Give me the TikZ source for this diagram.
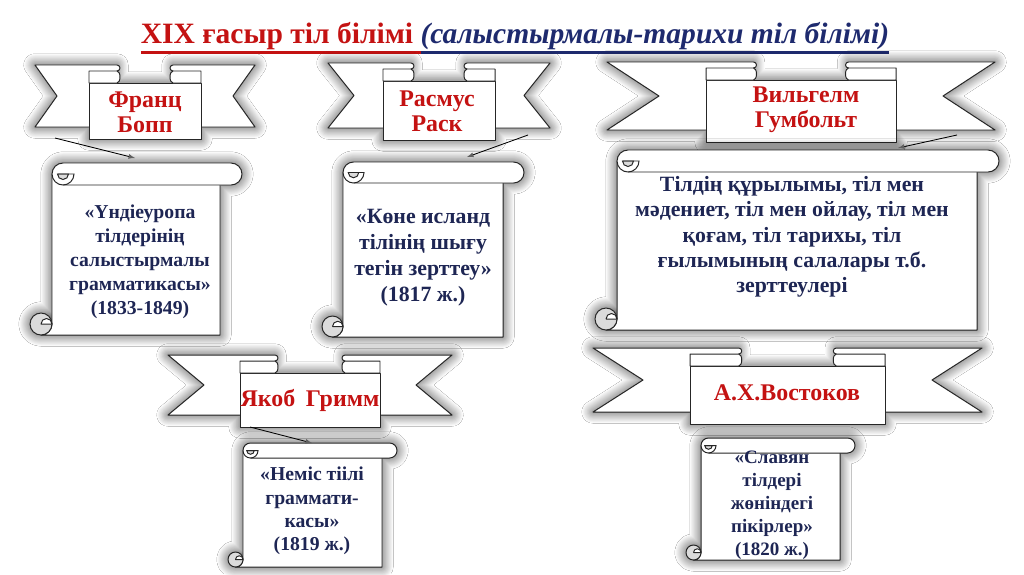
\documentclass[tikz,border=0pt]{standalone}
\usepackage{fontspec}
\setmainfont{Liberation Serif}
\usetikzlibrary{shadows.blur}
\definecolor{namered}{RGB}{196,18,18}
\definecolor{inkblue}{RGB}{30,38,84}
\definecolor{titleblue}{RGB}{30,42,110}
\tikzset{
  glow/.style={blur shadow={shadow xshift=0pt, shadow yshift=0pt, shadow blur radius=8pt, shadow blur steps=16, shadow opacity=75}},
  paper/.style={draw=black!85, fill=white, line width=0.7pt, line join=round},
  curlfill/.style={draw=black!85, fill=gray!28, line width=0.7pt},
  scholar/.style={text=namered, font=\bfseries\fontsize{17}{18}\selectfont, align=center},
  worktext/.style={text=inkblue, font=\bfseries\fontsize{15}{17.5}\selectfont, align=center},
  pointer/.style={-latex, line width=0.6pt},
}
% thick underline for the heading
\newcommand{\thickul}[1]{\vtop{\hbox{#1}\kern1.5pt\hrule height 1.6pt}}
% ribbon banner: centre x, tail half width, panel half width, tail top, tail bottom, notch
\newcommand{\ribbon}[6]{%
  \path[glow] ({#1-#2},#4) -- ({#1-#3/2},#4) -- ({#1-#3/2},{#4+18}) -- ({#1+#3/2},{#4+18}) -- ({#1+#3/2},#4) -- ({#1+#2},#4) -- ({#1+#2-#6},{(#4+#5)/2}) -- ({#1+#2},#5) -- ({#1+#3},#5) -- ({#1+#3},{#5+12}) -- ({#1-#3},{#5+12}) -- ({#1-#3},#5) -- ({#1-#2},#5) -- ({#1-#2+#6},{(#4+#5)/2}) -- cycle;
  \draw[paper] ({#1-#2},#4) -- ({#1-#3/2},#4) arc[start angle=-90,end angle=90,x radius=3,y radius=3] -- ({#1-#3/2},#5) -- ({#1-#2},#5) -- ({#1-#2+#6},{(#4+#5)/2}) -- cycle;
  \draw[paper] ({#1+#2},#4) -- ({#1+#3/2},#4) arc[start angle=-90,end angle=-270,x radius=3,y radius=3] -- ({#1+#3/2},#5) -- ({#1+#2},#5) -- ({#1+#2-#6},{(#4+#5)/2}) -- cycle;
  \draw[paper] ({#1-#3},{#4+18}) -- ({#1-#3},{#5+12}) -- ({#1+#3},{#5+12}) -- ({#1+#3},{#4+18}) -- cycle;
  \draw[paper] ({#1-#3},{#4+6}) -- ({#1-#3/2},{#4+6}) arc[start angle=-90,end angle=90,x radius=3,y radius=6] -- ({#1-#3},{#4+18}) -- cycle;
  \draw[paper] ({#1+#3},{#4+6}) -- ({#1+#3/2},{#4+6}) arc[start angle=-90,end angle=-270,x radius=3,y radius=6] -- ({#1+#3},{#4+18}) -- cycle;
}
% scroll sheet: left, right, top, roll height, bottom
\newcommand{\scrollsheet}[5]{%
  \path[glow] ({#1+#4/2},#3) -- ({#2+#4/2},#3) arc[start angle=-90,end angle=90,radius=#4/2] -- (#2,{#3+#4}) -- (#2,#5) -- ({#1-#4/2},#5) arc[start angle=90,end angle=270,radius=#4/2] -- (#1,{#5-#4}) -- (#1,{#3+#4/2}) arc[start angle=180,end angle=270,radius=#4/2] -- cycle;
  \draw[paper] (#1,{#3+#4/2}) -- (#1,{#5-#4/2}) arc[start angle=0,end angle=90,radius=#4/2] -- (#2,#5) -- (#2,{#3+#4/2}) -- cycle;
  \draw[curlfill] ({#1-#4/2},{#5-#4/2}) circle[radius=#4/2];
  \draw[paper] ({#1-#4/2},{#5-#4/2}) -- (#1,{#5-#4/2}) arc[start angle=0,end angle=-180,radius=#4/4] -- cycle;
  \draw[paper] ({#1+#4/2},#3) -- ({#2+#4/2},#3) arc[start angle=-90,end angle=90,radius=#4/2] -- ({#1+#4/2},{#3+#4}) arc[start angle=90,end angle=270,radius=#4/2] -- cycle;
  \draw[curlfill] ({#1+#4/4},{#3+#4/2}) arc[start angle=180,end angle=0,radius=#4/4] -- cycle;
  \draw[line width=0.7pt, black!85] ({#1+#4/4},{#3+#4/2}) -- ({#1+#4},{#3+#4/2}) arc[start angle=0,end angle=90,radius=#4/2];
}
\begin{document}
\begin{tikzpicture}[x=0.025cm, y=-0.025cm]
\fill[white] (0,0) rectangle (1024,574);
\useasboundingbox (0,0) rectangle (1024,574);

% heading
\node[anchor=base, font=\bfseries\fontsize{21}{24}\selectfont, inner sep=0pt] (title) at (515,43)
  {\textcolor{namered}{\thickul{XIX ғасыр тіл білімі\ }}\textcolor{titleblue}{\thickul{\itshape (салыстырмалы-тарихи тіл білімі)}}};

% banners and scrolls
\ribbon{145}{110}{56}{65}{127}{22}
\ribbon{439}{111}{56}{63}{128}{26}
\ribbon{801}{194}{95}{62}{130}{52}
\ribbon{310}{142}{70}{355}{415}{36}
\ribbon{787.5}{194.5}{97.5}{348}{412}{50}

\scrollsheet{52}{220}{163}{22}{335}
\scrollsheet{343}{503}{162}{21}{337}
\scrollsheet{617}{977}{150}{22}{330}
\scrollsheet{243}{382}{443}{15}{567}
\scrollsheet{701}{840}{438}{15}{560}

% names
\node[scholar] (bopp) at (145,112) {Франц\\Бопп};
\node[scholar] (rask) at (437,111) {Расмус\\Раск};
\node[scholar] (humboldt) at (806,110) {Вильгелм\\Гумбольт};
\node[scholar] (grimm) at (310,400) {Якоб\hspace{0.45em}Гримм};
\node[scholar] (vostokov) at (787,393) {А.Х.Востоков};

% works
\node[worktext, font=\bfseries\fontsize{14}{17}\selectfont] (boppwork) at (140,262) {«Үндіеуропа\\тілдерінің\\салыстырмалы\\грамматикасы»\\(1833-1849)};
\node[worktext, font=\bfseries\fontsize{15.5}{18.5}\selectfont] (raskwork) at (423,258) {«Көне исланд\\тілінің шығу\\тегін зерттеу»\\(1817 ж.)};
\node[worktext, font=\bfseries\fontsize{15.5}{18}\selectfont] (humboldtwork) at (792,237) {Тілдің құрылымы, тіл мен\\мәдениет, тіл мен ойлау, тіл мен\\қоғам, тіл тарихы, тіл\\ғылымының салалары т.б.\\зерттеулері};
\node[worktext, font=\bfseries\fontsize{14}{16.7}\selectfont] (grimmwork) at (312,511) {«Неміс тіілі\\граммати-\\касы»\\(1819 ж.)};
\node[worktext, font=\bfseries\fontsize{13.5}{16.4}\selectfont] (vostokovwork) at (772,505) {«Славян\\тілдері\\жөніндегі\\пікірлер»\\(1820 ж.)};

% pointers
\coordinate (boppfrom) at (55,138);
\coordinate (boppto) at (135,158);
\coordinate (raskfrom) at (528,135);
\coordinate (raskto) at (467,157);
\coordinate (humboldtfrom) at (957,135);
\coordinate (humboldtto) at (898,148);
\coordinate (grimmfrom) at (250,427);
\coordinate (grimmto) at (312,443);
\draw[pointer] (boppfrom) -- (boppto);
\draw[pointer] (raskfrom) -- (raskto);
\draw[pointer] (humboldtfrom) -- (humboldtto);
\draw[pointer] (grimmfrom) -- (grimmto);
\end{tikzpicture}
\end{document}
